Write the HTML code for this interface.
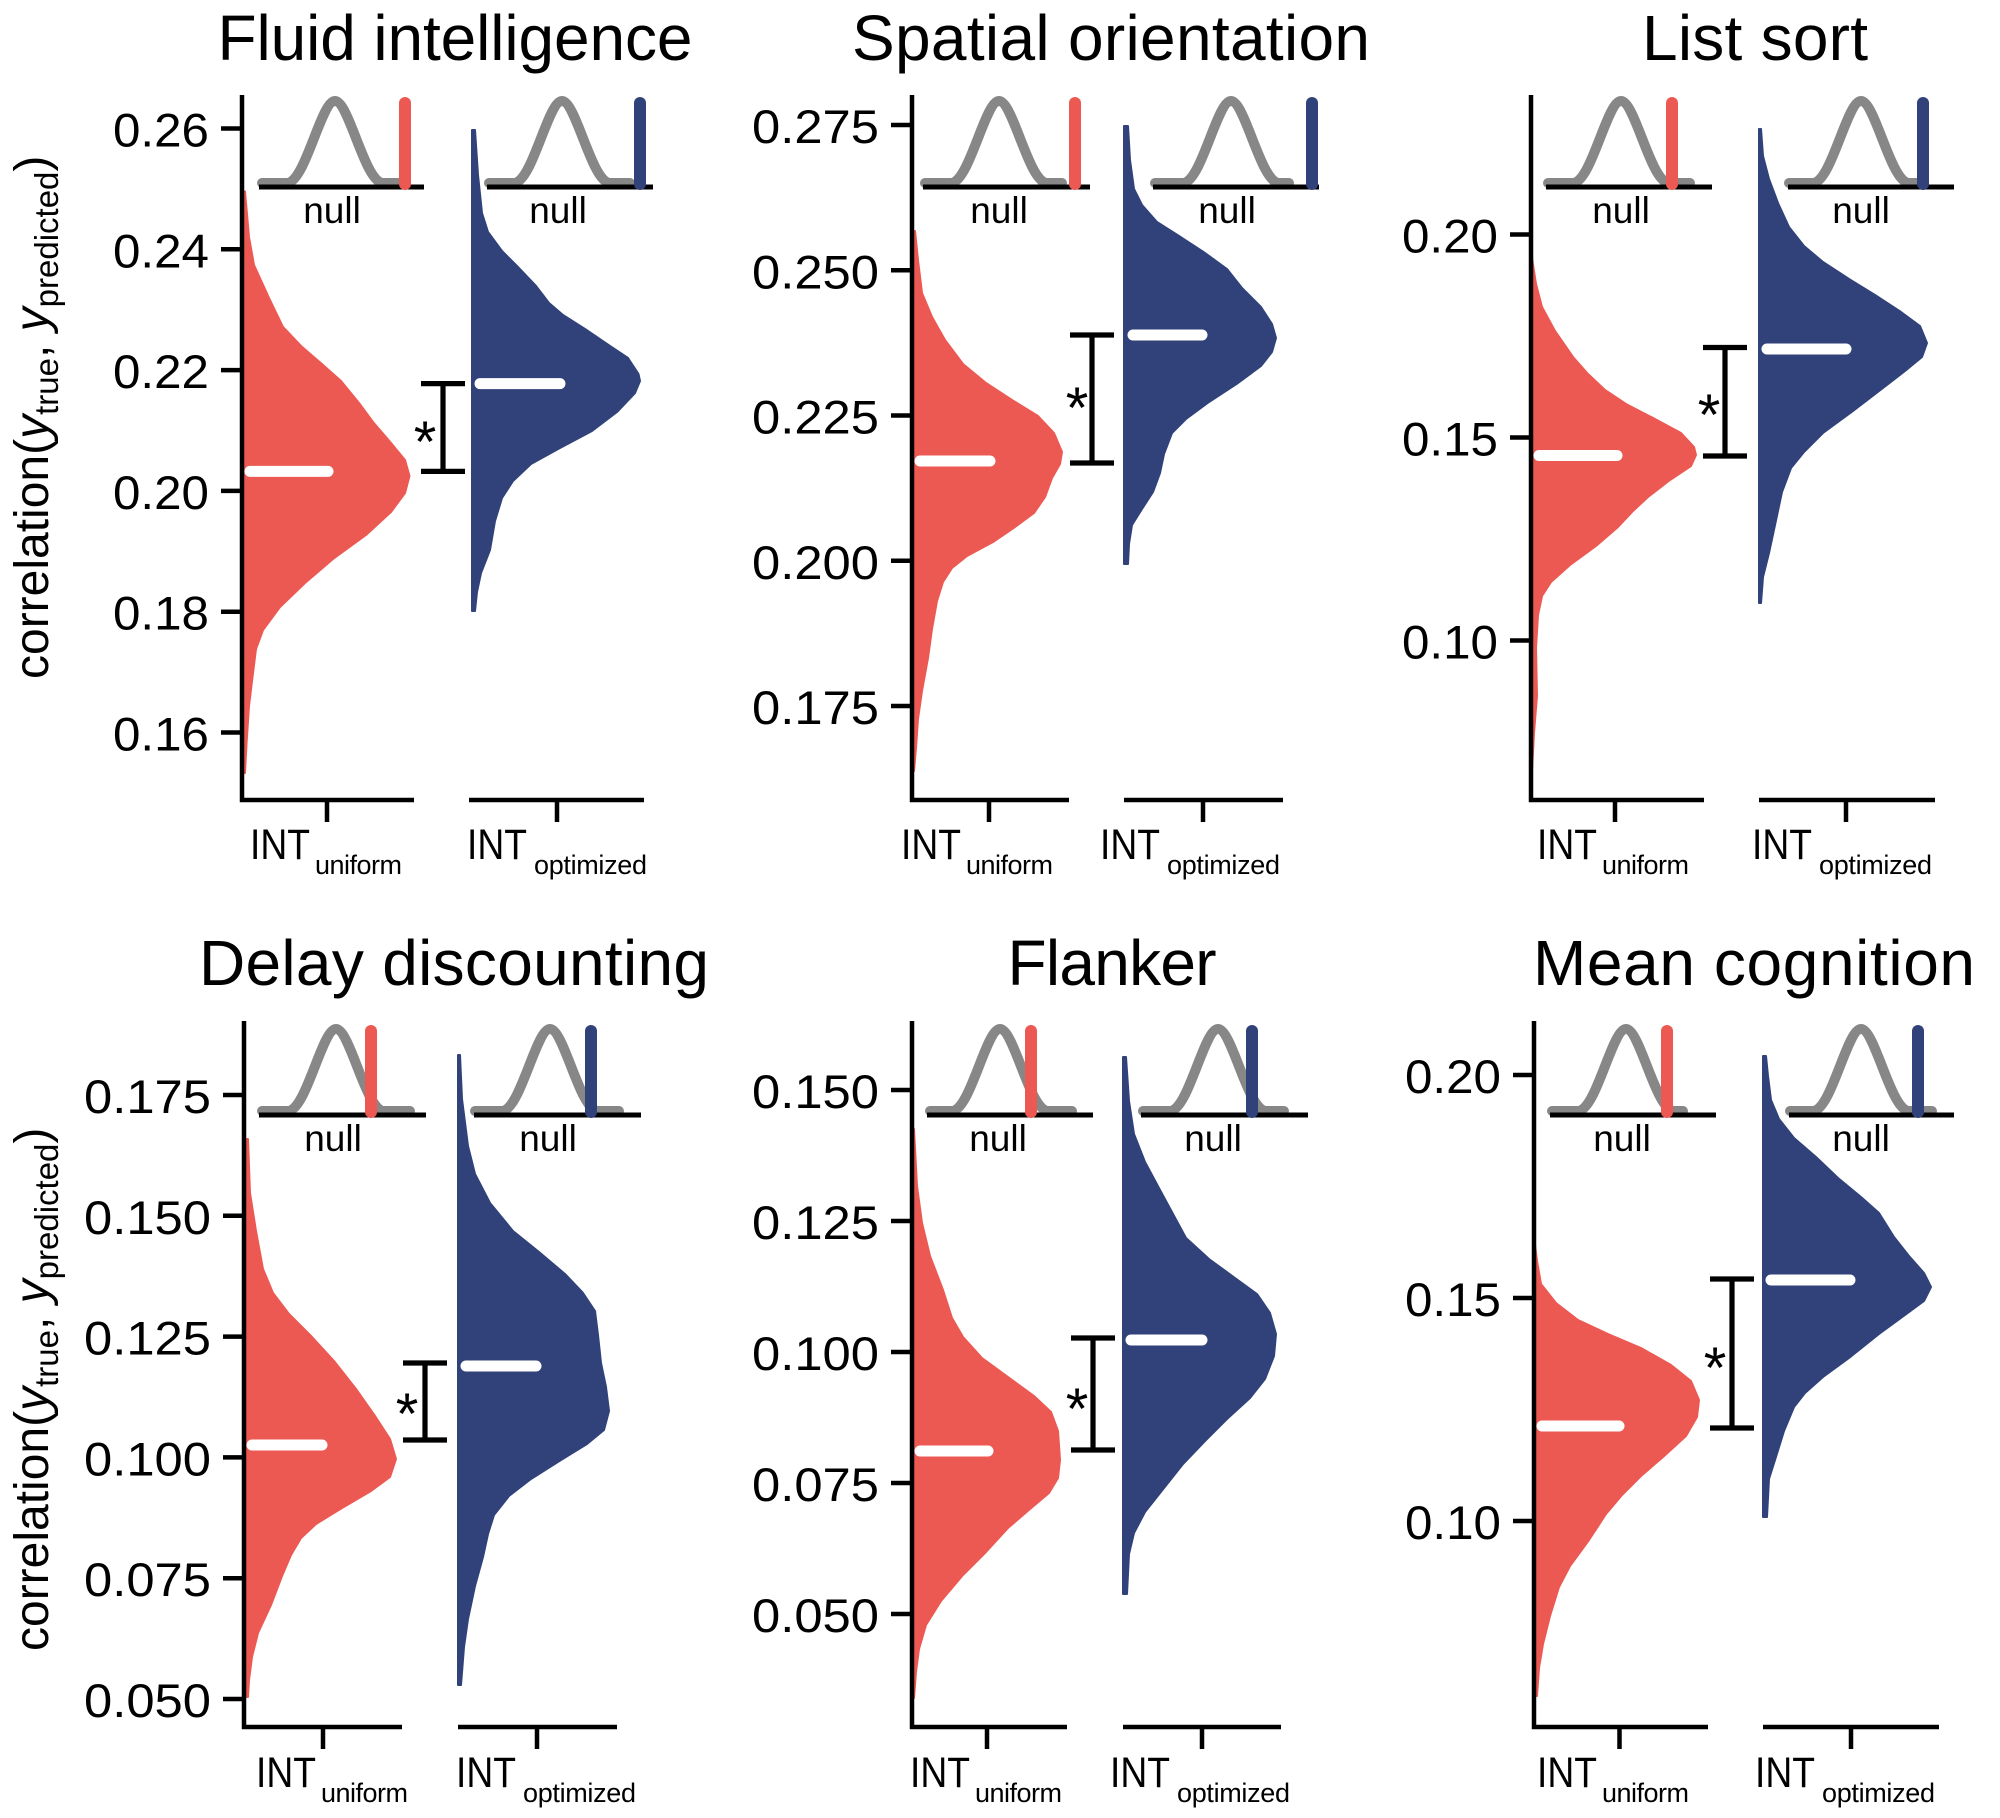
<!DOCTYPE html>
<html><head><meta charset="utf-8"><style>
html,body{margin:0;padding:0;background:#fff;}
svg{display:block;font-family:"Liberation Sans",Arial,sans-serif;}
</style></head><body>
<svg width="2000" height="1818" viewBox="0 0 2000 1818" xmlns="http://www.w3.org/2000/svg">
<rect width="2000" height="1818" fill="#fff"/>

<!-- violins -->
<g stroke-width="2" stroke-linejoin="round">
<polygon fill="#EC5953" stroke="#EC5953" points="241,191 245,191.5 249,237 254,265 269,298 283,327 301,346 323,365 341,381 359,403 373,422 391,443 405,460 409.5,476 405,493 391,512 366,535 333,559 305,583 280,607 263,630 256,649 253,673 249,706 246.5,744 245,773 241,773"/>
<polygon fill="#304279" stroke="#304279" points="472,130 475,130 478,175 482,213 488,232 502,251 516,265 536,286 549,303 563,315 585,329 610,346 628,358 638.5,374 640,381 635,393 617,412 592,431 560,448 531,464 513,481 502,498 495,521 490,550 481,573 477,592 475,611 472,611"/>
<polygon fill="#EC5953" stroke="#EC5953" points="912,231 915,231 918,260 922,293 932,317 945,340 963,364 986,383 1012,400 1038,416 1054,433 1062,452 1060,464 1052,478 1045,497 1034,513 1015,527 993,542 967,556 952,568 943,582 937,601 932,629 928,658 922,691 918,719 916,748 914,771 912,771"/>
<polygon fill="#304279" stroke="#304279" points="1124,126 1128,126 1130,160 1134,189 1142,205 1157,222 1179,236 1205,253 1227,269 1242,288 1261,307 1272,324 1276,338 1272,352 1261,366 1238,383 1209,402 1186,419 1172,433 1164,454 1160,473 1153,492 1142,509 1132,525 1129,544 1128,564 1124,564"/>
<polygon fill="#EC5953" stroke="#EC5953" points="1531,258 1532,258 1536,284 1542,307 1555,331 1573,357 1588,374 1605,390 1626,404 1655,419 1681,433 1694,447 1696,455 1691,466 1670,480 1648,497 1633,511 1618,527 1596,546 1570,565 1551,582 1542,596 1538,615 1536,648 1537,696 1534,733 1532,771 1531,771"/>
<polygon fill="#304279" stroke="#304279" points="1759,129 1761,129 1763,156 1769,179 1778,203 1789,227 1804,246 1823,262 1849,279 1875,295 1901,312 1920,326 1927,343 1922,357 1905,371 1883,388 1853,411 1823,433 1804,452 1791,468 1782,492 1775,525 1769,553 1763,577 1761,603 1759,603"/>
<polygon fill="#EC5953" stroke="#EC5953" points="244,1139 248,1139 250,1193 256,1231 263,1269 273,1293 289,1314 312,1337 334,1361 356,1389 375,1416 390,1439 396,1459 390,1477 371,1491 342,1508 316,1524 301,1538 291,1555 282,1576 271,1605 258,1633 252,1657 249,1680 248,1697 244,1697"/>
<polygon fill="#304279" stroke="#304279" points="458,1055 460,1055 462,1099 468,1146 475,1174 490,1203 513,1231 539,1252 565,1274 583,1293 595,1311 598,1335 601,1363 606,1387 609,1411 604,1430 587,1444 561,1460 531,1479 509,1496 494,1515 488,1534 483,1557 475,1586 468,1619 464,1647 461,1685 458,1685"/>
<polygon fill="#EC5953" stroke="#EC5953" points="912,1129 914,1129 917,1186 922,1223 930,1256 943,1290 952,1318 963,1337 982,1358 1008,1377 1034,1396 1051,1412 1058,1431 1060,1460 1058,1478 1049,1493 1030,1509 1008,1528 986,1552 963,1575 941,1601 926,1625 919,1649 916,1672 914,1698 912,1698"/>
<polygon fill="#304279" stroke="#304279" points="1123,1057 1126,1057 1129,1101 1134,1134 1145,1162 1160,1190 1173,1214 1186,1238 1209,1259 1235,1278 1257,1294 1270,1313 1276,1334 1274,1356 1265,1379 1250,1398 1227,1419 1205,1441 1183,1464 1164,1488 1145,1512 1134,1533 1129,1554 1127,1594 1123,1594"/>
<polygon fill="#EC5953" stroke="#EC5953" points="1534,1237 1537,1261 1541,1284 1556,1303 1578,1320 1608,1334 1641,1348 1671,1365 1691,1381 1699,1400 1697,1417 1686,1436 1663,1457 1641,1476 1622,1495 1606,1514 1589,1540 1570,1566 1559,1587 1550,1616 1543,1644 1539,1668 1537,1696 1534,1696"/>
<polygon fill="#304279" stroke="#304279" points="1763,1056 1766,1056 1768,1076 1771,1100 1779,1119 1794,1138 1816,1157 1838,1178 1861,1197 1879,1213 1894,1237 1909,1256 1924,1273 1931,1287 1924,1301 1905,1315 1879,1334 1849,1358 1823,1377 1805,1393 1794,1407 1784,1431 1775,1460 1769,1479 1767,1517 1763,1517"/>
</g>

<!-- medians -->
<g stroke="#fff" stroke-width="11" stroke-linecap="round">
<line x1="250" y1="471.4" x2="328" y2="471.4"/>
<line x1="480" y1="383.6" x2="560" y2="383.6"/>
<line x1="920" y1="461" x2="990" y2="461"/>
<line x1="1133" y1="335" x2="1202" y2="335"/>
<line x1="1539" y1="455.5" x2="1617" y2="455.5"/>
<line x1="1767" y1="349" x2="1846" y2="349"/>
<line x1="252" y1="1445" x2="322" y2="1445"/>
<line x1="466" y1="1366" x2="536" y2="1366"/>
<line x1="920" y1="1451" x2="988" y2="1451"/>
<line x1="1131" y1="1340" x2="1202" y2="1340"/>
<line x1="1542" y1="1426" x2="1619" y2="1426"/>
<line x1="1771" y1="1280" x2="1850" y2="1280"/>
</g>

<!-- significance brackets -->
<g stroke="#000" stroke-width="5.2" fill="none">
<path d="M421,383.6H465M443,383.6V471.4M421,471.4H465"/>
<path d="M1070,335H1114M1092,335V463M1070,463H1114"/>
<path d="M1703,347.5H1747M1725,347.5V456M1703,456H1747"/>
<path d="M403,1363H447M425,1363V1440M403,1440H447"/>
<path d="M1071,1338H1115M1093,1338V1450M1071,1450H1115"/>
<path d="M1710,1279H1754M1732,1279V1428M1710,1428H1754"/>
</g>
<g font-size="58" text-anchor="middle" fill="#000">
<text x="425" y="462">*</text>
<text x="1077" y="428">*</text>
<text x="1709" y="435">*</text>
<text x="407" y="1434">*</text>
<text x="1077" y="1429">*</text>
<text x="1715" y="1388">*</text>
</g>

<!-- insets: gray null curves -->
<g stroke="#878787" stroke-width="10" fill="none" stroke-linejoin="round" stroke-linecap="round">
<path d="M262,183 L287,183 C305,183 321,101 335,101 C349,101 365,183 383,183 L399,183"/>
<path d="M489,183 L514,183 C532,183 548,101 562,101 C576,101 592,183 610,183 L630,183"/>
<path d="M925,183 L951,183 C969,183 985,101 999,101 C1013,101 1029,183 1047,183 L1062,183"/>
<path d="M1155,183 L1183,183 C1201,183 1217,101 1231,101 C1245,101 1261,183 1279,183 L1289,183"/>
<path d="M1548,183 L1573,183 C1591,183 1607,101 1621,101 C1635,101 1651,183 1669,183 L1690,183"/>
<path d="M1789,183 L1813,183 C1831,183 1847,101 1861,101 C1875,101 1891,183 1909,183 L1919,183"/>
<path d="M262,1111 L288,1111 C306,1111 322,1029 336,1029 C350,1029 366,1111 384,1111 L410,1111"/>
<path d="M475,1111 L502,1111 C520,1111 536,1029 550,1029 C564,1029 580,1111 598,1111 L619,1111"/>
<path d="M930,1111 L952,1111 C970,1111 986,1029 1000,1029 C1014,1029 1030,1111 1048,1111 L1072,1111"/>
<path d="M1143,1111 L1170,1111 C1188,1111 1204,1029 1218,1029 C1232,1029 1248,1111 1266,1111 L1284,1111"/>
<path d="M1552,1111 L1578,1111 C1596,1111 1612,1029 1626,1029 C1640,1029 1656,1111 1674,1111 L1683,1111"/>
<path d="M1790,1111 L1813,1111 C1831,1111 1847,1029 1861,1029 C1875,1029 1891,1111 1909,1111 L1932,1111"/>
</g>
<!-- inset axis lines -->
<g stroke="#000" stroke-width="5">
<line x1="259" y1="187" x2="424" y2="187"/>
<line x1="487" y1="187" x2="653" y2="187"/>
<line x1="923" y1="187" x2="1090" y2="187"/>
<line x1="1153" y1="187" x2="1319" y2="187"/>
<line x1="1546" y1="187" x2="1712" y2="187"/>
<line x1="1788" y1="187" x2="1954" y2="187"/>
<line x1="259" y1="1115" x2="426" y2="1115"/>
<line x1="474" y1="1115" x2="641" y2="1115"/>
<line x1="927" y1="1115" x2="1093" y2="1115"/>
<line x1="1141" y1="1115" x2="1308" y2="1115"/>
<line x1="1550" y1="1115" x2="1716" y2="1115"/>
<line x1="1789" y1="1115" x2="1954" y2="1115"/>
</g>
<!-- inset bars -->
<g stroke-width="12" stroke-linecap="round">
<line x1="405" y1="103" x2="405" y2="184" stroke="#EC5953"/>
<line x1="640" y1="103" x2="640" y2="184" stroke="#304279"/>
<line x1="1075" y1="103" x2="1075" y2="184" stroke="#EC5953"/>
<line x1="1312" y1="103" x2="1312" y2="184" stroke="#304279"/>
<line x1="1672" y1="103" x2="1672" y2="184" stroke="#EC5953"/>
<line x1="1923" y1="103" x2="1923" y2="184" stroke="#304279"/>
<line x1="371" y1="1031" x2="371" y2="1112" stroke="#EC5953"/>
<line x1="591" y1="1031" x2="591" y2="1112" stroke="#304279"/>
<line x1="1031" y1="1031" x2="1031" y2="1112" stroke="#EC5953"/>
<line x1="1252" y1="1031" x2="1252" y2="1112" stroke="#304279"/>
<line x1="1667" y1="1031" x2="1667" y2="1112" stroke="#EC5953"/>
<line x1="1918" y1="1031" x2="1918" y2="1112" stroke="#304279"/>
</g>
<g font-size="37" text-anchor="middle" fill="#000">
<text x="332" y="223">null</text>
<text x="558" y="223">null</text>
<text x="999" y="223">null</text>
<text x="1227" y="223">null</text>
<text x="1621" y="223">null</text>
<text x="1861" y="223">null</text>
<text x="333" y="1151">null</text>
<text x="548" y="1151">null</text>
<text x="998" y="1151">null</text>
<text x="1213" y="1151">null</text>
<text x="1622" y="1151">null</text>
<text x="1861" y="1151">null</text>
</g>

<!-- axes -->
<g stroke="#000" stroke-width="4.5" fill="none" stroke-linejoin="miter">
<path d="M242,95V800H414M469,800H644"/>
<path d="M327,800V822M557,800V822"/>
<path d="M221,128.5H242M221,249.3H242M221,370.1H242M221,490.9H242M221,611.7H242M221,732.5H242"/>

<path d="M912,95V800H1069M1124,800H1283"/>
<path d="M989,800V822M1203,800V822"/>
<path d="M891,125H912M891,270.25H912M891,415.5H912M891,560.75H912M891,706H912"/>

<path d="M1531,95V800H1704M1759,800H1935"/>
<path d="M1615,800V822M1846,800V822"/>
<path d="M1510,234.5H1531M1510,437.5H1531M1510,640.5H1531"/>

<path d="M244,1021V1727H402M458,1727H617"/>
<path d="M323,1727V1749M537,1727V1749"/>
<path d="M223,1095H244M223,1215.8H244M223,1336.6H244M223,1457.4H244M223,1578.2H244M223,1699H244"/>

<path d="M912,1021V1727H1067M1123,1727H1281"/>
<path d="M987,1727V1749M1202,1727V1749"/>
<path d="M891,1090H912M891,1221H912M891,1352H912M891,1483H912M891,1614H912"/>

<path d="M1534,1021V1727H1708M1763,1727H1939"/>
<path d="M1619.5,1727V1749M1851,1727V1749"/>
<path d="M1513,1075H1534M1513,1298H1534M1513,1521H1534"/>
</g>

<!-- y tick labels -->
<g font-size="47" text-anchor="end" fill="#000" lengthAdjust="spacingAndGlyphs">
<text x="209" y="146.5" textLength="96" lengthAdjust="spacingAndGlyphs">0.26</text>
<text x="209" y="267.3" textLength="96" lengthAdjust="spacingAndGlyphs">0.24</text>
<text x="209" y="388.1" textLength="96" lengthAdjust="spacingAndGlyphs">0.22</text>
<text x="209" y="508.9" textLength="96" lengthAdjust="spacingAndGlyphs">0.20</text>
<text x="209" y="629.7" textLength="96" lengthAdjust="spacingAndGlyphs">0.18</text>
<text x="209" y="750.5" textLength="96" lengthAdjust="spacingAndGlyphs">0.16</text>

<text x="879" y="143" textLength="127" lengthAdjust="spacingAndGlyphs">0.275</text>
<text x="879" y="288.25" textLength="127" lengthAdjust="spacingAndGlyphs">0.250</text>
<text x="879" y="433.5" textLength="127" lengthAdjust="spacingAndGlyphs">0.225</text>
<text x="879" y="578.75" textLength="127" lengthAdjust="spacingAndGlyphs">0.200</text>
<text x="879" y="724" textLength="127" lengthAdjust="spacingAndGlyphs">0.175</text>

<text x="1498" y="252.5" textLength="96" lengthAdjust="spacingAndGlyphs">0.20</text>
<text x="1498" y="455.5" textLength="96" lengthAdjust="spacingAndGlyphs">0.15</text>
<text x="1498" y="658.5" textLength="96" lengthAdjust="spacingAndGlyphs">0.10</text>

<text x="211" y="1113" textLength="127" lengthAdjust="spacingAndGlyphs">0.175</text>
<text x="211" y="1233.8" textLength="127" lengthAdjust="spacingAndGlyphs">0.150</text>
<text x="211" y="1354.6" textLength="127" lengthAdjust="spacingAndGlyphs">0.125</text>
<text x="211" y="1475.4" textLength="127" lengthAdjust="spacingAndGlyphs">0.100</text>
<text x="211" y="1596.2" textLength="127" lengthAdjust="spacingAndGlyphs">0.075</text>
<text x="211" y="1717" textLength="127" lengthAdjust="spacingAndGlyphs">0.050</text>

<text x="879" y="1108" textLength="127" lengthAdjust="spacingAndGlyphs">0.150</text>
<text x="879" y="1239" textLength="127" lengthAdjust="spacingAndGlyphs">0.125</text>
<text x="879" y="1370" textLength="127" lengthAdjust="spacingAndGlyphs">0.100</text>
<text x="879" y="1501" textLength="127" lengthAdjust="spacingAndGlyphs">0.075</text>
<text x="879" y="1632" textLength="127" lengthAdjust="spacingAndGlyphs">0.050</text>

<text x="1501" y="1093" textLength="96" lengthAdjust="spacingAndGlyphs">0.20</text>
<text x="1501" y="1316" textLength="96" lengthAdjust="spacingAndGlyphs">0.15</text>
<text x="1501" y="1539" textLength="96" lengthAdjust="spacingAndGlyphs">0.10</text>
</g>

<!-- x tick labels -->
<g fill="#000">
<text x="250" y="859" font-size="43" textLength="60" lengthAdjust="spacingAndGlyphs">INT</text><text x="315" y="874" font-size="27" textLength="87">uniform</text>
<text x="467" y="859" font-size="43" textLength="60" lengthAdjust="spacingAndGlyphs">INT</text><text x="534" y="874" font-size="27" textLength="113">optimized</text>
<text x="901" y="859" font-size="43" textLength="60" lengthAdjust="spacingAndGlyphs">INT</text><text x="966" y="874" font-size="27" textLength="87">uniform</text>
<text x="1100" y="859" font-size="43" textLength="60" lengthAdjust="spacingAndGlyphs">INT</text><text x="1167" y="874" font-size="27" textLength="113">optimized</text>
<text x="1537" y="859" font-size="43" textLength="60" lengthAdjust="spacingAndGlyphs">INT</text><text x="1602" y="874" font-size="27" textLength="87">uniform</text>
<text x="1752" y="859" font-size="43" textLength="60" lengthAdjust="spacingAndGlyphs">INT</text><text x="1819" y="874" font-size="27" textLength="113">optimized</text>

<text x="256" y="1787" font-size="43" textLength="60" lengthAdjust="spacingAndGlyphs">INT</text><text x="321" y="1802" font-size="27" textLength="87">uniform</text>
<text x="456" y="1787" font-size="43" textLength="60" lengthAdjust="spacingAndGlyphs">INT</text><text x="523" y="1802" font-size="27" textLength="113">optimized</text>
<text x="910" y="1787" font-size="43" textLength="60" lengthAdjust="spacingAndGlyphs">INT</text><text x="975" y="1802" font-size="27" textLength="87">uniform</text>
<text x="1110" y="1787" font-size="43" textLength="60" lengthAdjust="spacingAndGlyphs">INT</text><text x="1177" y="1802" font-size="27" textLength="113">optimized</text>
<text x="1537" y="1787" font-size="43" textLength="60" lengthAdjust="spacingAndGlyphs">INT</text><text x="1602" y="1802" font-size="27" textLength="87">uniform</text>
<text x="1755" y="1787" font-size="43" textLength="60" lengthAdjust="spacingAndGlyphs">INT</text><text x="1822" y="1802" font-size="27" textLength="113">optimized</text>
</g>

<!-- titles -->
<g font-size="64" text-anchor="middle" fill="#000">
<text x="455" y="60" textLength="475">Fluid intelligence</text>
<text x="1111" y="60" textLength="518">Spatial orientation</text>
<text x="1755" y="60" textLength="226">List sort</text>
<text x="454" y="985" textLength="510">Delay discounting</text>
<text x="1112" y="985" textLength="209">Flanker</text>
<text x="1754" y="985" textLength="442">Mean cognition</text>
</g>

<!-- y axis labels -->
<g font-size="48" fill="#000">
<text transform="translate(48,679) rotate(-90)">correlation(<tspan font-style="italic">y</tspan><tspan font-size="33" dy="10">true</tspan><tspan font-size="48" dy="-10">, </tspan><tspan font-style="italic">y</tspan><tspan font-size="33" dy="10">predicted</tspan><tspan font-size="48" dy="-10">)</tspan></text>
<text transform="translate(48,1651) rotate(-90)">correlation(<tspan font-style="italic">y</tspan><tspan font-size="33" dy="10">true</tspan><tspan font-size="48" dy="-10">, </tspan><tspan font-style="italic">y</tspan><tspan font-size="33" dy="10">predicted</tspan><tspan font-size="48" dy="-10">)</tspan></text>
</g>
</svg>
</body></html>
